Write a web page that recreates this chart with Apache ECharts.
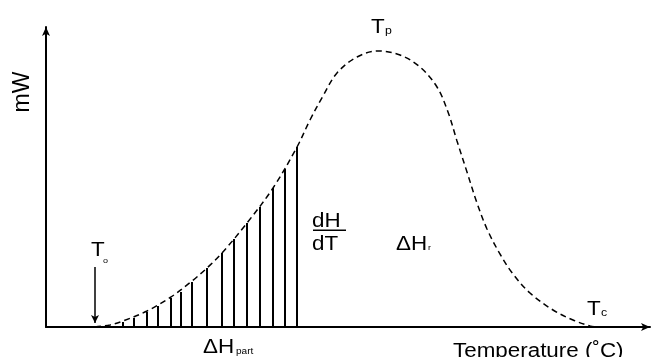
<!DOCTYPE html>
<html>
<head>
<meta charset="utf-8">
<script src="https://cdn.jsdelivr.net/npm/echarts@6/dist/echarts.min.js"></script>
<style>
  html, body { margin: 0; padding: 0; background: #fff; }
  #chart { width: 654px; height: 357px; }
</style>
</head>
<body>
<div id="chart"></div>
<script>
  // DSC curve, arbitrary units (temperature along x, heat flow along y)
  var curveTemp = [49, 64, 77, 101, 125, 146, 161, 176, 201, 227, 251, 264, 277, 291, 311, 332, 354, 374, 391, 402, 411, 421, 431, 441, 454, 467, 484, 507, 527, 544, 550];
  var curveHeat = [0, 2, 6, 16, 30, 46, 59, 74, 104, 139, 180, 207, 231, 254, 270, 276, 272, 260, 240, 215, 186, 155, 124, 98, 73, 53, 34, 17, 7, 1, 0];

  // partial enthalpy strips under the rising edge
  var hatchTemp = [77, 88, 101, 112, 125, 135, 146, 161, 176, 188, 201, 214, 227, 239, 251];
  var hatchHeat = [5, 9, 15, 21, 29, 35, 45, 59, 74, 88, 104, 120, 139, 158, 180];

  // onset arrow
  var onsetTemp = 49;
  var onsetArrow = [60, 4];

  var FONT = '"Liberation Sans", Arial, sans-serif';

  function txt(x, y, s, size, opt) {
    opt = opt || {};
    return {
      type: 'text', x: x, y: y, scaleX: opt.sx || 1.12, rotation: opt.rot || 0,
      silent: true,
      style: {
        text: s, x: 0, y: 0, fill: '#000',
        font: size + 'px ' + FONT,
        textAlign: opt.align || 'left', textVerticalAlign: 'middle',
        align: opt.align || 'left', verticalAlign: 'middle'
      }
    };
  }

  var chart = echarts.init(document.getElementById('chart'));
  chart.setOption({
    animation: false,
    backgroundColor: '#fff',
    grid: { left: 46, right: 4, top: 27, bottom: 30 },
    xAxis: {
      type: 'value', min: 0, max: 604,
      axisLine: { lineStyle: { color: '#000', width: 2 }, symbol: ['none', 'arrow'], symbolSize: [6, 9] },
      axisTick: { show: false }, axisLabel: { show: false }, splitLine: { show: false }
    },
    yAxis: {
      type: 'value', min: 0, max: 300,
      axisLine: { lineStyle: { color: '#000', width: 2 }, symbol: ['none', 'arrow'], symbolSize: [6, 9] },
      axisTick: { show: false }, axisLabel: { show: false }, splitLine: { show: false }
    },
    series: [
      {
        name: 'dsc',
        type: 'line',
        smooth: 0.35,
        showSymbol: false,
        symbol: 'none',
        lineStyle: { color: '#000', width: 1.5, type: [6, 4] },
        data: curveTemp.map(function (t, i) { return [t, curveHeat[i]]; }),
        markLine: {
          silent: true,
          symbol: ['none', 'arrow'],
          symbolSize: [6, 8],
          label: { show: false },
          lineStyle: { color: '#000', width: 1.5, type: 'solid' },
          data: [[{ coord: [onsetTemp, onsetArrow[0]] }, { coord: [onsetTemp, onsetArrow[1]] }]]
        },
        z: 3
      },
      {
        name: 'part',
        type: 'bar',
        barWidth: 2,
        itemStyle: { color: '#000' },
        data: hatchTemp.map(function (t, i) { return [t, hatchHeat[i]]; }),
        z: 2
      }
    ],
    graphic: [
      txt(23, 92, 'mW', 23, { rot: Math.PI / 2, align: 'center', sx: 1 }),
      txt(371, 27, 'T', 20),
      txt(385, 31, 'p', 11),
      txt(91, 250.5, 'T', 20),
      txt(103, 261, 'o', 8),
      txt(312, 221, 'dH', 20),
      { type: 'rect', silent: true, shape: { x: 313, y: 229.5, width: 33, height: 1.6 }, style: { fill: '#000' } },
      txt(312, 244.5, 'dT', 20),
      txt(396, 244.5, '\u0394H', 20),
      txt(428, 248, 'r', 8),
      txt(587, 309, 'T', 20),
      txt(601, 313, 'c', 11),
      txt(203, 347.5, '\u0394H', 20),
      txt(236, 352, 'part', 9),
      txt(453, 351, 'Temperature (\u02DAC)', 20)
    ]
  });
</script>
</body>
</html>
